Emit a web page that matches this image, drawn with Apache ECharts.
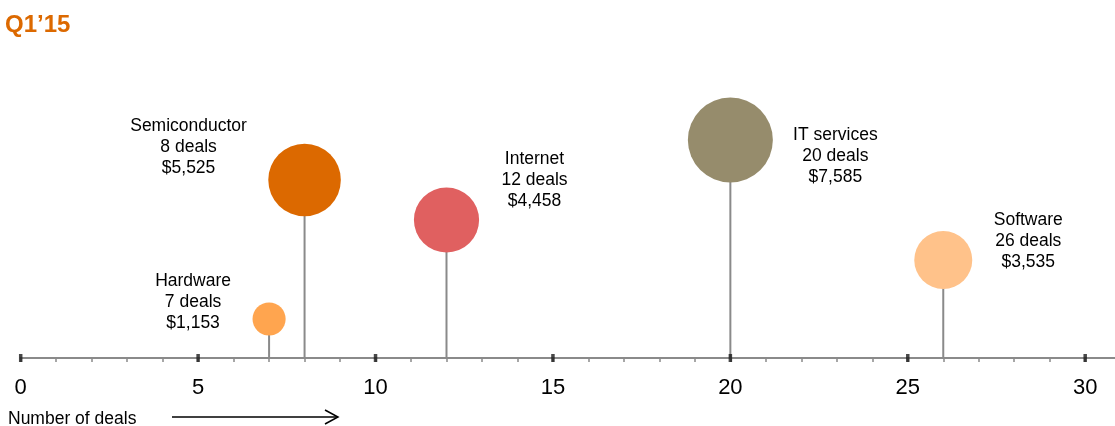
<!DOCTYPE html>
<html>
<head>
<meta charset="utf-8">
<script src="https://cdn.jsdelivr.net/npm/echarts@6/dist/echarts.min.js"></script>
<style>html,body{margin:0;padding:0;background:#fff;}#c{width:1115px;height:426px;}</style>
</head>
<body>
<div id="c"></div>
<script>
// ---- data ----
const sectors = ['Hardware', 'Semiconductor', 'Internet', 'IT services', 'Software'];
const deals = [7, 8, 12, 20, 26];
const dollars = [1153, 5525, 4458, 7585, 3535];
const heights = [39, 178, 138, 218, 98];      // vertical placement of each bubble (arbitrary units)
const colors = ['#FFA54F', '#DC6900', '#E06060', '#968C6C', '#FFC28A'];
const xLabelValues = [0, 5, 10, 15, 20, 25, 30];
const xTickValues = Array.from({length: 31}, (_, i) => i);

// ---- layout (not data) ----
const labelOffsets = [[-76, -17], [-116, -33], [88, -40], [105, 16], [85, -19]];
const FONT = '"Liberation Sans", Arial, sans-serif';
const maxDollars = 7585, maxSize = 85;

const chart = echarts.init(document.getElementById('c'));
const fmt = v => '$' + v.toLocaleString('en-US');

const bubbleData = sectors.map((s, i) => ({
  name: s,
  value: [deals[i], heights[i], dollars[i]],
  itemStyle: { color: colors[i] },
  label: { offset: labelOffsets[i] }
}));

chart.setOption({
  animation: false,
  title: {
    text: 'Q1\u201915', left: 0, top: 8,
    textStyle: { color: '#DC6900', fontSize: 24, fontWeight: 'bold', fontFamily: FONT }
  },
  grid: { left: 20.7, right: 0, top: 58, bottom: 68, containLabel: false },
  xAxis: {
    type: 'value', min: 0, max: 30.84,
    axisLine: { show: true, lineStyle: { color: '#8a8a8a', width: 2 } },
    axisTick: { show: true, customValues: xTickValues, length: 4, lineStyle: { color: '#8a8a8a', width: 1.5 } },
    axisLabel: { customValues: xLabelValues, fontSize: 22, color: '#000', fontFamily: FONT, margin: 19, showMaxLabel: true, showMinLabel: true },
    splitLine: { show: false }
  },
  yAxis: { type: 'value', min: 0, max: 300, show: false },
  graphic: [
    { type: 'text', left: 8, top: 410, style: { text: 'Number of deals', fontSize: 17.5, fill: '#000', fontFamily: FONT } },
    { type: 'polyline', shape: { points: [[172, 417], [338, 417]] }, style: { stroke: '#000', lineWidth: 1.5 } },
    { type: 'polyline', shape: { points: [[325, 410], [338, 417], [325, 424]] }, style: { stroke: '#000', lineWidth: 1.5, fill: null } }
  ],
  series: [
    {
      type: 'custom', z: 1,
      data: sectors.map((s, i) => [deals[i], heights[i]]),
      renderItem: (params, api) => {
        const top = api.coord([api.value(0), api.value(1)]);
        const bot = api.coord([api.value(0), 0]);
        return { type: 'line', shape: { x1: top[0], y1: top[1], x2: bot[0], y2: bot[1] }, style: { stroke: '#8a8a8a', lineWidth: 2 } };
      },
      silent: true
    },
    {
      type: 'scatter', z: 2,
      data: xLabelValues.map(v => [v, 0]),
      symbol: 'rect', symbolSize: [3.5, 8],
      itemStyle: { color: '#1a1a1a' }, silent: true
    },
    {
      type: 'scatter', z: 3,
      data: bubbleData,
      symbolSize: v => maxSize * Math.sqrt(v[2] / maxDollars),
      itemStyle: { opacity: 1 },
      label: {
        show: true, position: 'inside', align: 'center', verticalAlign: 'middle',
        fontSize: 17.5, lineHeight: 21, color: '#000', fontFamily: FONT,
        formatter: p => p.name + '\n' + p.value[0] + ' deals\n' + fmt(p.value[2])
      }
    }
  ]
});
</script>
</body>
</html>
